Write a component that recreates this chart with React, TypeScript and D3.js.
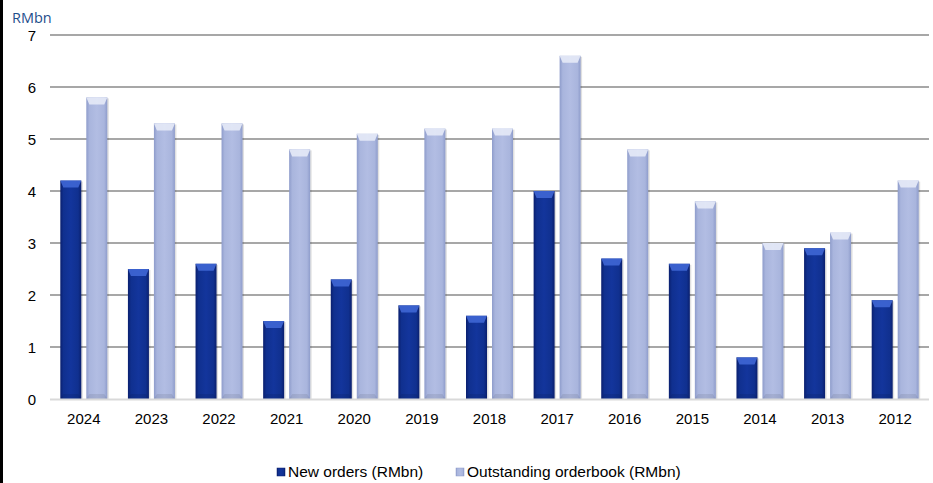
import React from "react";
import * as d3 from "d3";

const years = ["2024","2023","2022","2021","2020","2019","2018","2017","2016","2015","2014","2013","2012"];
const newOrders = [4.2, 2.5, 2.6, 1.5, 2.3, 1.8, 1.6, 4.0, 2.7, 2.6, 0.8, 2.9, 1.9];
const outstanding = [5.8, 5.3, 5.3, 4.8, 5.1, 5.2, 5.2, 6.6, 4.8, 3.8, 3.0, 3.2, 4.2];
const yTicks = [0, 1, 2, 3, 4, 5, 6, 7];
const seriesNames = ["New orders (RMbn)", "Outstanding orderbook (RMbn)"];

const W = 933, H = 483;
const left = 50, right = 929, top = 35, bottom = 399;
const FONT = "Liberation Sans, Arial, sans-serif";

export default function App() {
  const x = d3.scaleBand<string>().domain(years).range([left, right]).paddingInner(0).paddingOuter(0);
  const y = d3.scaleLinear().domain([0, 7]).range([bottom, top]);
  const bw = 21, gap = 5;
  const series = [
    { vals: newOrders, grad: "gDark", topC: "#3F66D4", off: -(bw + gap / 2) },
    { vals: outstanding, grad: "gLight", topC: "#E6EAF7", off: gap / 2 },
  ];
  return (
    <svg width={W} height={H} style={{ position: "absolute", left: 0, top: 0, background: "#fff" }}>
      <defs>
        <linearGradient id="gDark" x1="0" x2="1" y1="0" y2="0">
          <stop offset="0" stopColor="#0A1F6E" />
          <stop offset="0.15" stopColor="#10308F" />
          <stop offset="0.5" stopColor="#13359C" />
          <stop offset="0.85" stopColor="#10308F" />
          <stop offset="1" stopColor="#0A1F6E" />
        </linearGradient>
        <linearGradient id="gLight" x1="0" x2="1" y1="0" y2="0">
          <stop offset="0" stopColor="#8E9CCB" />
          <stop offset="0.15" stopColor="#A9B5DD" />
          <stop offset="0.5" stopColor="#B2BDE3" />
          <stop offset="0.85" stopColor="#A9B5DD" />
          <stop offset="1" stopColor="#8E9CCB" />
        </linearGradient>
      </defs>
      <rect x={0} y={0} width={W} height={H} fill="#fff" />
      <rect x={0} y={0} width={3} height={H} fill="#000" />
      {yTicks.map((t) => (
        <g key={t}>
          {t > 0 && <line x1={left} x2={right} y1={y(t)} y2={y(t)} stroke="#8A8A8A" strokeWidth={1.6} />}
          <text x={36} y={y(t) + 5.5} textAnchor="end" fontFamily={FONT} fontSize={15} fill="#000">{t}</text>
        </g>
      ))}
      {series.map((s, si) =>
        s.vals.map((v, i) => {
          const cx = x(years[i])! + x.bandwidth() / 2;
          const x0 = cx + s.off;
          const y0 = y(v);
          const h = bottom - y0;
          const bev = Math.min(7, h / 2);
          return (
            <g key={si + "-" + i}>
              <rect x={x0 + 1.5} y={y0 + 1} width={bw} height={h} fill="#000" opacity={0.12} />
              <rect x={x0} y={y0} width={bw} height={h} fill={`url(#${s.grad})`} />
              <polygon
                points={`${x0},${y0} ${x0 + bw},${y0} ${x0 + bw - 3},${y0 + bev} ${x0 + 3},${y0 + bev}`}
                fill={s.topC}
                opacity={0.9}
              />
              <polygon
                points={`${x0 + 3},${bottom - 5} ${x0 + bw - 3},${bottom - 5} ${x0 + bw},${bottom} ${x0},${bottom}`}
                fill="#000"
                opacity={0.08}
              />
            </g>
          );
        })
      )}
      <line x1={left} x2={right} y1={bottom + 0.5} y2={bottom + 0.5} stroke="#D9D9D9" strokeWidth={2} />
      {years.map((yr) => (
        <text key={yr} x={x(yr)! + x.bandwidth() / 2} y={424} textAnchor="middle" fontFamily={FONT} fontSize={15} fill="#000">{yr}</text>
      ))}
      <text x={12} y={23} fontFamily="Open Sans, Lato, sans-serif" fontSize={14.5} fill="#1F4E8C">RMbn</text>
      <rect x={277} y={468} width={8} height={8} fill="url(#gDark)" stroke="#0A1F6E" strokeWidth={0.5} />
      <text x={288} y={477} fontFamily={FONT} fontSize={15.5} fill="#000">{seriesNames[0]}</text>
      <rect x={456} y={468} width={8} height={8} fill="url(#gLight)" stroke="#8E9CCB" strokeWidth={0.5} />
      <text x={467} y={477} fontFamily={FONT} fontSize={15.5} fill="#000">{seriesNames[1]}</text>
    </svg>
  );
}
